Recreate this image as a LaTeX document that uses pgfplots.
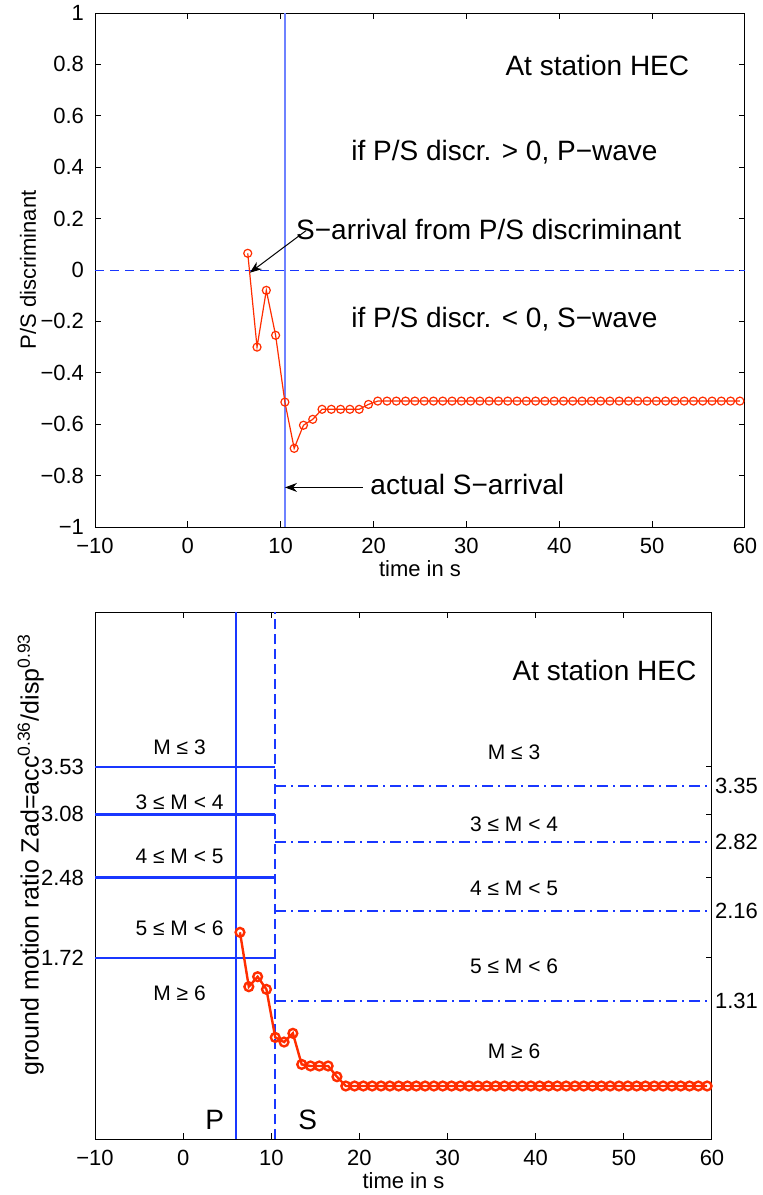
\documentclass[border=0pt]{standalone}
\usepackage{fontspec}
\setmainfont{Liberation Sans}
\usepackage{pgfplots}
\pgfplotsset{compat=1.18}
\usetikzlibrary{arrows.meta}
\definecolor{mred}{RGB}{255,45,0}
\definecolor{mblue}{RGB}{25,55,255}
\definecolor{lblue}{RGB}{110,130,255}
\begin{document}
\begin{tikzpicture}
\useasboundingbox (0,0) rectangle (381pt,-597.5pt);
% ---------------- top axis ----------------
\begin{axis}[
  at={(47.5pt,-263.5pt)}, anchor=south west,
  scale only axis, width=325pt, height=257pt,
  xmin=-10, xmax=60, ymin=-1, ymax=1,
  xtick={-10,0,10,20,30,40,50,60},
  xticklabels={−10,0,10,20,30,40,50,60},
  ytick={-1,-0.8,-0.6,-0.4,-0.2,0,0.2,0.4,0.6,0.8,1},
  yticklabels={−1,−0.8,−0.6,−0.4,−0.2,0,0.2,0.4,0.6,0.8,1},
  tick align=inside, tick pos=both, major tick length=3pt,
  axis line style={line width=0.5pt},
  every tick/.style={black, line width=0.5pt},
  ticklabel style={font=\fontsize{11}{13}\selectfont},
  xticklabel style={yshift=-2pt},
  yticklabel style={xshift=-2pt},
  xlabel={time in s}, ylabel={P/S discriminant},
  label style={font=\fontsize{11}{13}\selectfont},
  xlabel style={at={(axis description cs:0.5,0)}, anchor=base, yshift=-24.5pt},
  ylabel style={at={(axis description cs:-0.103,0.5)}, anchor=center},
]
\addplot[mblue, line width=0.5pt, dash pattern=on 4.5pt off 3pt] coordinates {(-10,0)(60,0)};
\addplot[lblue, line width=0.7pt] coordinates {(10.45,-1)(10.45,1)};
\addplot[mred, line width=0.6pt, mark=o, mark size=2pt, mark options={solid}] coordinates {
(6.45,0.065)(7.45,-0.30)(8.45,-0.079)(9.45,-0.254)(10.45,-0.514)(11.45,-0.694)(12.45,-0.604)(13.45,-0.581)
(14.45,-0.542)(15.45,-0.542)(16.45,-0.542)(17.45,-0.542)(18.45,-0.542)(19.45,-0.523)
(20.45,-0.51)(21.45,-0.51)(22.45,-0.51)(23.45,-0.51)(24.45,-0.51)(25.45,-0.51)(26.45,-0.51)(27.45,-0.51)(28.45,-0.51)(29.45,-0.51)
(30.45,-0.51)(31.45,-0.51)(32.45,-0.51)(33.45,-0.51)(34.45,-0.51)(35.45,-0.51)(36.45,-0.51)(37.45,-0.51)(38.45,-0.51)(39.45,-0.51)
(40.45,-0.51)(41.45,-0.51)(42.45,-0.51)(43.45,-0.51)(44.45,-0.51)(45.45,-0.51)(46.45,-0.51)(47.45,-0.51)(48.45,-0.51)(49.45,-0.51)
(50.45,-0.51)(51.45,-0.51)(52.45,-0.51)(53.45,-0.51)(54.45,-0.51)(55.45,-0.51)(56.45,-0.51)(57.45,-0.51)(58.45,-0.51)(59.45,-0.51)};
\node[anchor=base, inner sep=0pt, font=\fontsize{14}{16}\selectfont] at (axis cs:44.1,0.755) {At station HEC};
\node[anchor=base, inner sep=0pt, font=\fontsize{14}{16}\selectfont] at (axis cs:34.1,0.428) {if P/S discr. > 0, P−wave};
\node[anchor=base, inner sep=0pt, font=\fontsize{14}{16}\selectfont] at (axis cs:32.4,0.119) {S−arrival from P/S discriminant};
\node[anchor=base, inner sep=0pt, font=\fontsize{14}{16}\selectfont] at (axis cs:34.1,-0.222) {if P/S discr. < 0, S−wave};
\node[anchor=base, inner sep=0pt, font=\fontsize{14}{16}\selectfont] at (axis cs:30.1,-0.875) {actual S−arrival};
\draw[black, line width=0.5pt, -{Stealth[length=6pt,width=4.5pt]}] (axis cs:12.72,0.153) -- (axis cs:6.67,-0.0105);
\draw[black, line width=0.5pt, -{Stealth[length=6pt,width=4.5pt]}] (axis cs:18.83,-0.846) -- (axis cs:10.46,-0.846);
\end{axis}
% ---------------- bottom axis ----------------
\begin{axis}[
  at={(47.5pt,-569.5pt)}, anchor=south west,
  scale only axis, width=308.5pt, height=263.5pt,
  xmin=-10, xmax=60, ymin=0, ymax=5,
  xtick={-10,0,10,20,30,40,50,60},
  xticklabels={−10,0,10,20,30,40,50,60},
  ytick={1.72,2.48,3.08,3.53},
  yticklabels={1.72,2.48,3.08,3.53},
  tick align=inside, tick pos=both, major tick length=3pt,
  axis line style={line width=0.5pt},
  every tick/.style={black, line width=0.5pt},
  ticklabel style={font=\fontsize{11}{13}\selectfont},
  xticklabel style={yshift=-2pt},
  yticklabel style={xshift=-2pt},
  xlabel={time in s}, ylabel={ground motion ratio Zad=acc\textsuperscript{0.36}/disp\textsuperscript{0.93}},
  xlabel style={font=\fontsize{11}{13}\selectfont, at={(axis description cs:0.5,0)}, anchor=base, yshift=-24.5pt},
  ylabel style={font=\fontsize{12.5}{14}\selectfont, at={(axis description cs:-0.104,0.54)}, anchor=center},
]
\addplot[mblue, line width=1.2pt] coordinates {(6,0)(6,5)};
\addplot[mblue, line width=1.2pt, dash pattern=on 5pt off 2.5pt] coordinates {(10.45,0)(10.45,5)};
\addplot[mblue, line width=1.2pt] coordinates {(-10,3.53)(10.45,3.53)};
\addplot[mblue, line width=1.2pt] coordinates {(-10,3.08)(10.45,3.08)};
\addplot[mblue, line width=1.2pt] coordinates {(-10,2.48)(10.45,2.48)};
\addplot[mblue, line width=1.2pt] coordinates {(-10,1.72)(10.45,1.72)};
\addplot[mblue, line width=1.1pt, dash pattern=on 5.5pt off 2.5pt on 1pt off 2.5pt] coordinates {(10.45,3.35)(60,3.35)};
\addplot[mblue, line width=1.1pt, dash pattern=on 5.5pt off 2.5pt on 1pt off 2.5pt] coordinates {(10.45,2.82)(60,2.82)};
\addplot[mblue, line width=1.1pt, dash pattern=on 5.5pt off 2.5pt on 1pt off 2.5pt] coordinates {(10.45,2.16)(60,2.16)};
\addplot[mblue, line width=1.1pt, dash pattern=on 5.5pt off 2.5pt on 1pt off 2.5pt] coordinates {(10.45,1.31)(60,1.31)};
\addplot[mred, line width=1.2pt, mark=o, mark size=2.2pt, mark options={solid}] coordinates {
(6.45,1.961)(7.45,1.445)(8.45,1.540)(9.45,1.420)(10.45,0.964)(11.45,0.920)(12.45,1.003)(13.45,0.708)
(14.45,0.693)(15.45,0.693)(16.45,0.693)(17.45,0.591)(18.45,0.503)(19.45,0.503)
(20.45,0.503)(21.45,0.503)(22.45,0.503)(23.45,0.503)(24.45,0.503)(25.45,0.503)(26.45,0.503)(27.45,0.503)(28.45,0.503)(29.45,0.503)
(30.45,0.503)(31.45,0.503)(32.45,0.503)(33.45,0.503)(34.45,0.503)(35.45,0.503)(36.45,0.503)(37.45,0.503)(38.45,0.503)(39.45,0.503)
(40.45,0.503)(41.45,0.503)(42.45,0.503)(43.45,0.503)(44.45,0.503)(45.45,0.503)(46.45,0.503)(47.45,0.503)(48.45,0.503)(49.45,0.503)
(50.45,0.503)(51.45,0.503)(52.45,0.503)(53.45,0.503)(54.45,0.503)(55.45,0.503)(56.45,0.503)(57.45,0.503)(58.45,0.503)(59.45,0.503)};
\node[anchor=base, inner sep=0pt, font=\fontsize{14}{16}\selectfont] at (axis cs:47.8,4.35) {At station HEC};
\node[anchor=base, inner sep=0pt, font=\fontsize{10.5}{12}\selectfont] at (axis cs:-0.4,3.65) {M ≤ 3};
\node[anchor=base, inner sep=0pt, font=\fontsize{10.5}{12}\selectfont] at (axis cs:-0.4,3.13) {3 ≤ M < 4};
\node[anchor=base, inner sep=0pt, font=\fontsize{10.5}{12}\selectfont] at (axis cs:-0.4,2.61) {4 ≤ M < 5};
\node[anchor=base, inner sep=0pt, font=\fontsize{10.5}{12}\selectfont] at (axis cs:-0.4,1.93) {5 ≤ M < 6};
\node[anchor=base, inner sep=0pt, font=\fontsize{10.5}{12}\selectfont] at (axis cs:-0.4,1.31) {M ≥ 6};
\node[anchor=base, inner sep=0pt, font=\fontsize{10.5}{12}\selectfont] at (axis cs:37.55,3.605) {M ≤ 3};
\node[anchor=base, inner sep=0pt, font=\fontsize{10.5}{12}\selectfont] at (axis cs:37.55,2.913) {3 ≤ M < 4};
\node[anchor=base, inner sep=0pt, font=\fontsize{10.5}{12}\selectfont] at (axis cs:37.55,2.315) {4 ≤ M < 5};
\node[anchor=base, inner sep=0pt, font=\fontsize{10.5}{12}\selectfont] at (axis cs:37.55,1.570) {5 ≤ M < 6};
\node[anchor=base, inner sep=0pt, font=\fontsize{10.5}{12}\selectfont] at (axis cs:37.55,0.768) {M ≥ 6};
\node[anchor=base, inner sep=0pt, font=\fontsize{14}{16}\selectfont] at (axis cs:3.58,0.092) {P};
\node[anchor=base, inner sep=0pt, font=\fontsize{14}{16}\selectfont] at (axis cs:14.14,0.092) {S};
\end{axis}
% right-hand tick labels of the bottom axis
\begin{axis}[
  at={(47.5pt,-569.5pt)}, anchor=south west,
  scale only axis, width=308.5pt, height=263.5pt,
  xmin=-10, xmax=60, ymin=0, ymax=5,
  hide x axis, axis line style={draw=none},
  ytick={1.31,2.16,2.82,3.35},
  yticklabels={1.31,2.16,2.82,3.35},
  ytick pos=right, yticklabel pos=right, major tick length=0pt,
  ticklabel style={font=\fontsize{11}{13}\selectfont},
  yticklabel style={xshift=-2pt},
]
\end{axis}
\end{tikzpicture}
\end{document}
